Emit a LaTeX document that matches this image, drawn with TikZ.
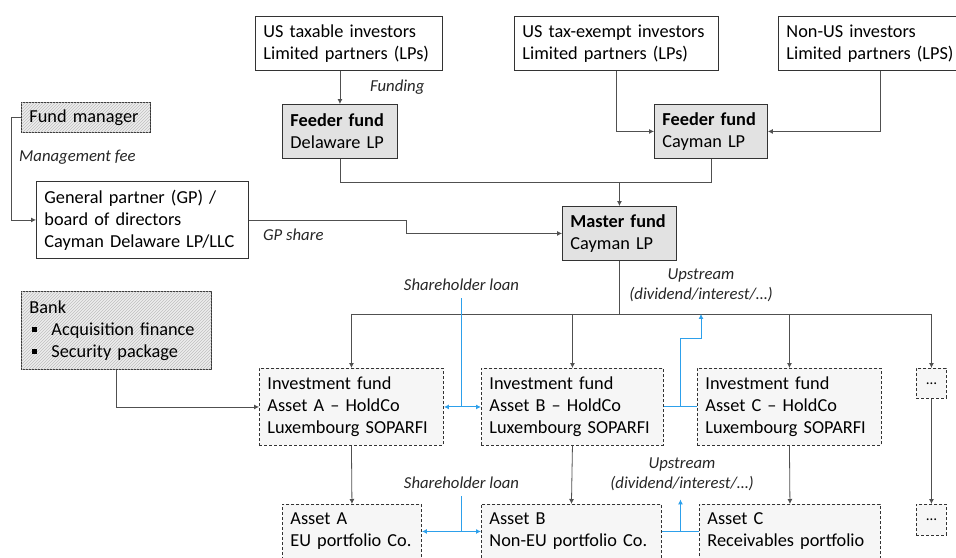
\documentclass[tikz,border=0pt]{standalone}
\usepackage{fontspec}
\setmainfont{Carlito}
\usetikzlibrary{arrows.meta,calc,patterns}
\tikzset{
  box/.style={
    draw=black!80,
    line width=0.9pt,
    anchor=north west,
    inner xsep=8pt,
    inner ysep=0pt,
    align=left,
    font=\fontsize{18.3}{22}\selectfont
  },
  box-fund/.style={box, fill=boxgray},
  box-hatch/.style={box, fill=gray!14, postaction={pattern=north east lines, pattern color=gray!50}},
  box-dash/.style={box, dash pattern=on 3pt off 2pt, fill=gray!7},
  flow/.style={draw=linegray, line width=0.8pt},
  flow-arrow/.style={flow, -{Latex[length=5pt,width=5pt]}},
  loan/.style={draw=loanblue, line width=1pt},
  loan-arrow/.style={loan, -{Latex[length=5pt,width=5pt]}},
  loan-both/.style={loan, {Latex[length=5pt,width=5pt]}-{Latex[length=5pt,width=5pt]}},
  flow-text/.style={font=\fontsize{16.7}{20}\selectfont\itshape, text=black!85, inner sep=0pt, align=center}
}
\definecolor{linegray}{RGB}{80,80,80}
\definecolor{boxgray}{RGB}{226,226,226}
\definecolor{loanblue}{RGB}{45,160,235}
\newcommand{\bankbullet}{\hspace*{3pt}\rule[3pt]{5pt}{5pt}\hspace{14pt}}

\begin{document}
\begin{tikzpicture}[x=1pt,y=-1pt]
  \useasboundingbox (0,0) rectangle (956,557);
  % Investors
  \node[box, text width=171pt, minimum height=54pt] (ustaxable) at (255,16) {US taxable investors\\Limited partners (LPs)};
  \node[box, text width=188pt, minimum height=54pt] (usexempt) at (514,16) {US tax-exempt investors\\Limited partners (LPs)};
  \node[box, text width=188pt, minimum height=54pt] (nonus) at (778,16) {Non-US investors\\Limited partners (LPS)};
  % Funds
  \node[box-fund, text width=99pt, minimum height=54pt] (feederde) at (282,104) {\textbf{Feeder fund}\\Delaware LP};
  \node[box-fund, text width=97pt, minimum height=54pt] (feederky) at (654,104) {\textbf{Feeder fund}\\Cayman LP};
  \node[box-fund, text width=98pt, minimum height=54pt] (master) at (562,206) {\textbf{Master fund}\\Cayman LP};
  \node[box-hatch, text width=113pt, minimum height=30pt] (fundmgr) at (21,102) {Fund manager};
  \node[box, text width=196pt, minimum height=77pt] (gp) at (36,181) {General partner (GP) /\\board of directors\\Cayman Delaware LP/LLC};
  \node[box-hatch, text width=174pt, minimum height=78pt] (bank) at (21,291) {Bank\\\bankbullet Acquisition finance\\\bankbullet Security package};
  % HoldCos
  \node[box-dash, text width=168pt, minimum height=77pt] (holdA) at (259,368) {Investment fund\\Asset A -- HoldCo\\Luxembourg SOPARFI};
  \node[box-dash, text width=166pt, minimum height=77pt] (holdB) at (481,368) {Investment fund\\Asset B -- HoldCo\\Luxembourg SOPARFI};
  \node[box-dash, text width=168pt, minimum height=77pt] (holdC) at (697,368) {Investment fund\\Asset C -- HoldCo\\Luxembourg SOPARFI};
  \node[box-dash, inner xsep=0pt, minimum width=30pt, minimum height=30pt, align=center, font=\fontsize{15}{16}\selectfont] (holdX) at (916,368) {…};
  % Assets
  \node[box-dash, text width=123pt, minimum height=54pt] (assetA) at (282,504) {Asset A\\EU portfolio Co.};
  \node[box-dash, text width=164pt, minimum height=54pt] (assetB) at (481,504) {Asset B\\Non-EU portfolio Co.};
  \node[box-dash, text width=165pt, minimum height=54pt] (assetC) at (699,504) {Asset C\\Receivables portfolio};
  \node[box-dash, inner xsep=0pt, minimum width=30pt, minimum height=31pt, align=center, font=\fontsize{15}{16}\selectfont] (assetX) at (916,504) {…};
  % Labels
  \node[flow-text, anchor=west] (funding) at (370,87) {Funding};
  \node[flow-text, anchor=west] (mgmtfee) at (19,157) {Management fee};
  \node[flow-text, anchor=west] (gpshare) at (263,235) {GP share};
  \node[flow-text] (loantop) at (461.5,285) {Shareholder loan};
  \node[flow-text] (uptop) at (701,285) {Upstream\\(dividend/interest/…)};
  \node[flow-text] (loanbot) at (461.5,483) {Shareholder loan};
  \node[flow-text] (upbot) at (682,474) {Upstream\\(dividend/interest/…)};

  % Investors into feeders
  \draw[flow-arrow] (ustaxable.south -| feederde.north) -- (feederde.north);
  \draw[flow-arrow] (usexempt.south) |- (feederky.west);
  \draw[flow-arrow] (nonus.south) |- (feederky.east);
  % Feeders into master
  \coordinate (feedjoin) at ($(master.north)+(0,-24)$);
  \draw[flow] (feederde.south) |- (feedjoin);
  \draw[flow] (feederky.south) |- (feedjoin);
  \draw[flow-arrow] (feedjoin) -- (master.north);
  % Fee and GP share
  \draw[flow-arrow] (fundmgr.west) -- ++(-10,0) |- (gp.west);
  \draw[flow-arrow] (gp.east) -- ++(157,0) |- (master.west);
  % Master down to the HoldCos
  \coordinate (bus) at ($(master.south)+(0,53)$);
  \draw[flow] (master.south) -- (bus);
  \draw[flow] (bus -| holdA.north) -- (bus -| holdX.north);
  \foreach \n in {holdA,holdB,holdC,holdX}{
    \draw[flow-arrow] (bus -| \n.north) -- (\n.north);
  }
  \foreach \n/\m in {holdA/assetA,holdB/assetB,holdC/assetC,holdX/assetX}{
    \draw[flow-arrow] (\n.south) -- (\m.north);
  }
  \draw[flow-arrow] (bank.south) |- (holdA.west);
  % Loans and upstream
  \draw[loan-both] (holdA.east) -- (holdB.west);
  \draw[loan, shorten <=7pt] (loantop.south) -- (loantop.south |- holdA.east);
  \draw[loan] (holdB.east) -- (holdC.west);
  \draw[loan-arrow] ($(holdB.east)!.5!(holdC.west)$) -- ++(0,-68) -| (uptop.south |- bus);
  \draw[loan-both] (assetA.east) -- (assetB.west);
  \draw[loan, shorten <=7pt] (loanbot.south) -- (loanbot.south |- assetA.east);
  \draw[loan] (assetB.east) -- (assetC.west);
  \draw[loan-arrow] ($(assetB.east)!.5!(assetC.west)$) -- ++(0,-32);
\end{tikzpicture}
\end{document}
